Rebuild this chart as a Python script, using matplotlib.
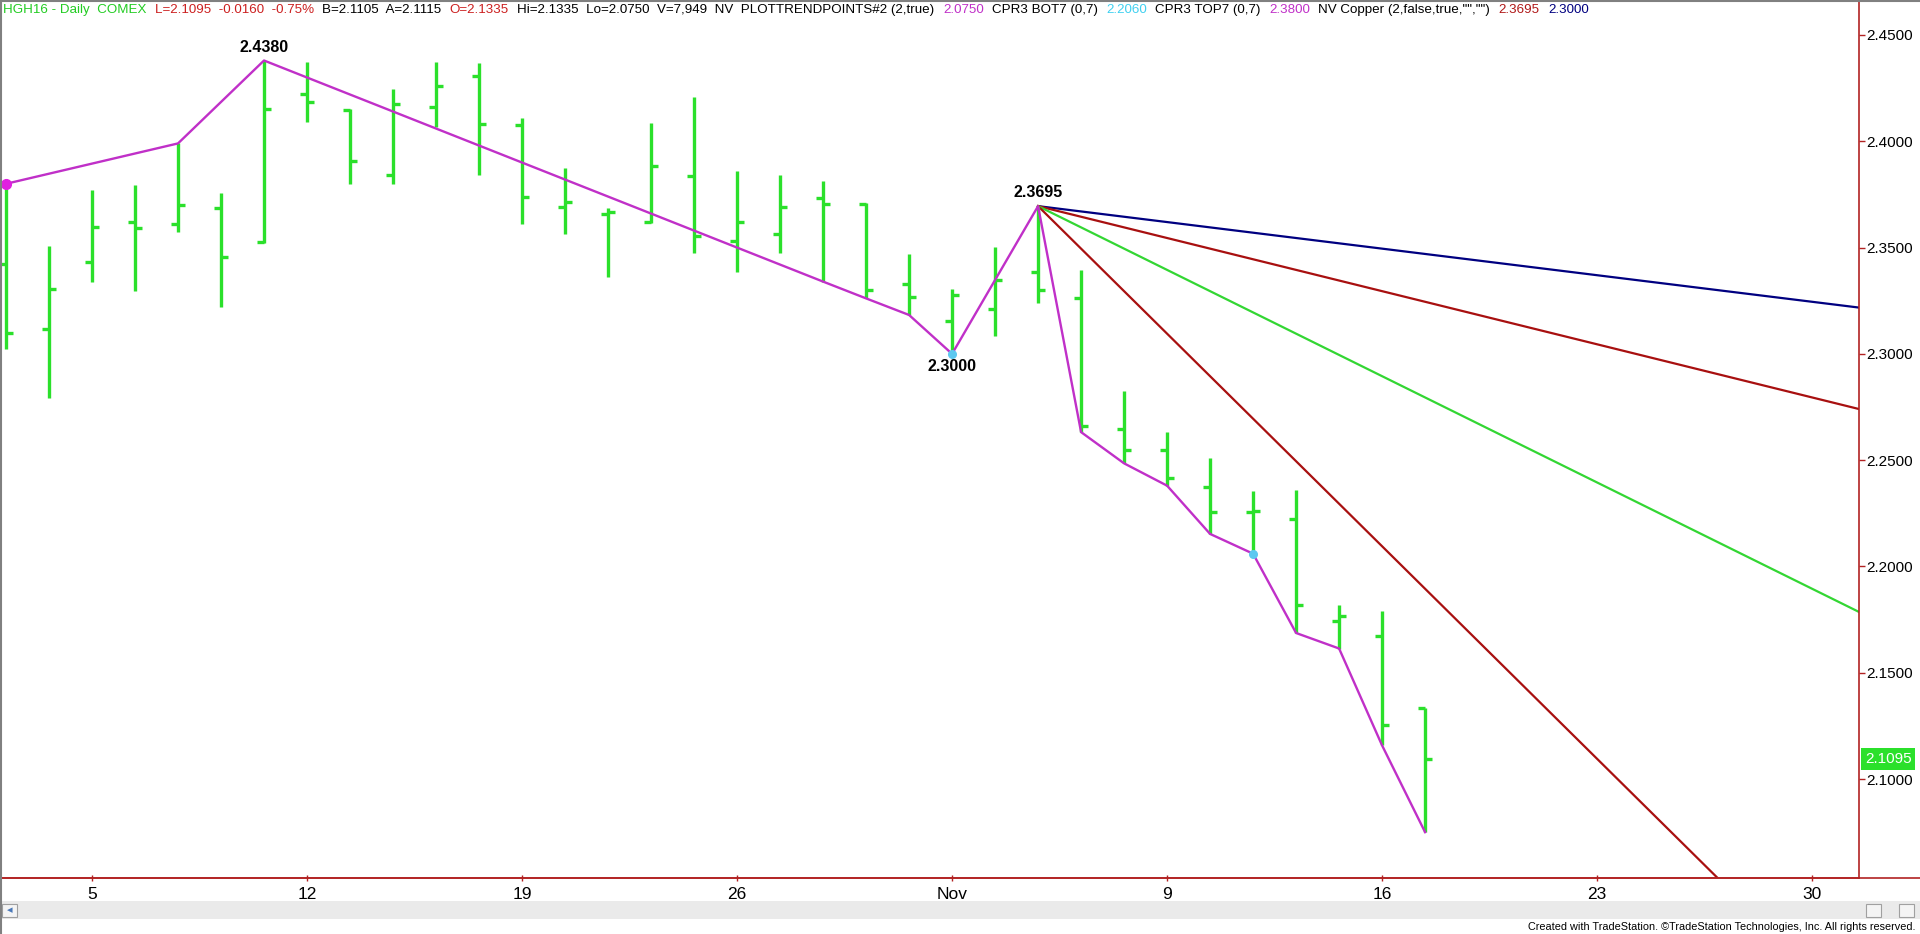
import numpy as np
import matplotlib.pyplot as plt
from matplotlib.lines import Line2D
from matplotlib.patches import Rectangle
from matplotlib.offsetbox import TextArea, HPacker, AnchoredOffsetbox

# HGH16 daily bars, bar index 0 = Oct 1 2015 (trading days only)
opens = [2.3423, 2.3117, 2.3434, 2.3619, 2.3609, 2.3685, 2.3525, 2.4222, 2.4147, 2.3841,
         2.4160, 2.4307, 2.4077, 2.3689, 2.3658, 2.3620, 2.3838, 2.3532, 2.3562, 2.3733,
         2.3705, 2.3330, 2.3156, 2.3209, 2.3383, 2.3261, 2.2646, 2.2548, 2.2373, 2.2254,
         2.2222, 2.1744, 2.1672, 2.1335]
highs = [2.3800, 2.3507, 2.3771, 2.3794, 2.3990, 2.3755, 2.4380, 2.4375, 2.4152, 2.4244,
         2.4371, 2.4370, 2.4108, 2.3874, 2.3685, 2.4088, 2.4210, 2.3860, 2.3841, 2.3813,
         2.3708, 2.3470, 2.3303, 2.3503, 2.3695, 2.3394, 2.2825, 2.2632, 2.2510, 2.2355,
         2.2359, 2.1817, 2.1792, 2.1335]
lows = [2.3021, 2.2791, 2.3337, 2.3297, 2.3572, 2.3219, 2.3520, 2.4089, 2.3801, 2.3801,
        2.4069, 2.3840, 2.3611, 2.3564, 2.3363, 2.3617, 2.3476, 2.3387, 2.3476, 2.3340,
        2.3261, 2.3183, 2.3000, 2.3083, 2.3240, 2.2632, 2.2485, 2.2380, 2.2153, 2.2060,
        2.1687, 2.1614, 2.1158, 2.0750]
closes = [2.3097, 2.3304, 2.3595, 2.3591, 2.3699, 2.3457, 2.4150, 2.4183, 2.3906, 2.4175,
          2.4260, 2.4080, 2.3736, 2.3713, 2.3666, 2.3884, 2.3556, 2.3619, 2.3693, 2.3703,
          2.3300, 2.3266, 2.3277, 2.3349, 2.3299, 2.2663, 2.2548, 2.2418, 2.2254, 2.2260,
          2.1819, 2.1765, 2.1255, 2.1095]

# PLOTTRENDPOINTS swing line
trend_idx = [0, 4, 6, 19, 20, 21, 22, 24, 25, 26, 27, 28, 29, 30, 31, 32, 33]
trend_val = [2.3800, 2.3990, 2.4380, 2.3340, 2.3261, 2.3183, 2.3000, 2.3695, 2.2632,
             2.2485, 2.2380, 2.2153, 2.2060, 2.1687, 2.1614, 2.1158, 2.0750]

# swing labels
pivot_idx = [6, 22, 24]
pivot_val = [2.4380, 2.3000, 2.3695]
pivot_top = [True, False, True]

# CPR3 points
top_idx, top_val = [0], [2.3800]
bot_idx, bot_val = [22, 29], [2.3000, 2.2060]

# NV Copper fan from the 2.3695 high (slope per bar)
fan_start = (24, 2.3695)
fan_slopes = [-0.0025, -0.005, -0.01, -0.02]
fan_colors = ['#000080', '#A81010', '#33D633', '#A81010']

# x axis labels (Mondays)
tick_idx = [2, 7, 12, 17, 22, 27, 32, 37, 42]
tick_lbl = ['5', '12', '19', '26', 'Nov', '9', '16', '23', '30']
ytick_vals = [2.10, 2.15, 2.20, 2.25, 2.30, 2.35, 2.40, 2.45]
last_price = 2.1095

W, H = 1920, 934
GREEN = '#2BE02B'
AXRED = '#B22222'
MAG = '#C030C8'

fig = plt.figure(figsize=(W / 100, H / 100), dpi=100, facecolor='white')
ax = fig.add_axes([2 / W, (H - 878) / H, (1859 - 2) / W, (878 - 2) / H])

x = np.arange(len(opens))
tk = 0.16
ax.vlines(x, lows, highs, color=GREEN, lw=2.4, zorder=3)
ax.hlines(opens, x - tk, x, color=GREEN, lw=2.4, zorder=3)
ax.hlines(closes, x, x + tk, color=GREEN, lw=2.4, zorder=3)

ax.plot(trend_idx, trend_val, color=MAG, lw=1.7, zorder=4)
ax.plot(top_idx, top_val, 'o', color='#E020E0', ms=7, zorder=5)
ax.plot(bot_idx, bot_val, 'o', color='#5CC8F0', ms=5.5, zorder=5)

x_end = 43.2
for s, c in zip(fan_slopes, fan_colors):
    xs = np.array([fan_start[0], x_end])
    ax.plot(xs, fan_start[1] + s * (xs - fan_start[0]), color=c, lw=1.6, zorder=2)

for i, v, up in zip(pivot_idx, pivot_val, pivot_top):
    ax.annotate(f'{v:.4f}', xy=(i, v), xytext=(0, 6 if up else -5),
                textcoords='offset pixels', ha='center', va='bottom' if up else 'top',
                fontsize=11.5, fontweight='bold', family='Liberation Sans', zorder=6)

ax.set_xlim(-0.093, 43.09)
ax.set_ylim(2.05345, 2.46552)

for sp in ['top', 'left']:
    ax.spines[sp].set_visible(False)
for sp in ['right', 'bottom']:
    ax.spines[sp].set_color(AXRED)
    ax.spines[sp].set_linewidth(1.2)

ax.yaxis.tick_right()
ax.set_yticks(ytick_vals)
ax.set_yticklabels([f'{v:.4f}' for v in ytick_vals], family='Liberation Sans', fontsize=11)
ax.tick_params(axis='y', direction='out', length=4.5, width=1, color=AXRED, pad=1)
ax.set_xticks(tick_idx)
ax.set_xticklabels(tick_lbl, family=['Liberation Sans Narrow', 'Liberation Sans'], fontsize=12.5)
ax.tick_params(axis='x', direction='inout', length=5, width=1, color=AXRED, pad=4)

# last price box on the price scale
ax.annotate(f'{last_price:.4f}', xy=(1, last_price), xycoords=('axes fraction', 'data'),
            xytext=(6, 0), textcoords='offset pixels', ha='left', va='center',
            color='white', fontsize=11, family='Liberation Sans', annotation_clip=False,
            bbox=dict(boxstyle='square,pad=0.25', fc=GREEN, ec='none'))

# bottom axis line across whole width, frame lines, scroll bar
fig.add_artist(Line2D([0, 1], [(H - 878) / H] * 2, color=AXRED, lw=1.2))
fig.add_artist(Line2D([0.5 / W] * 2, [0, 1], color='#808080', lw=1.5))
fig.add_artist(Line2D([0, 1], [1 - 0.5 / H] * 2, color='#808080', lw=1.5))
fig.add_artist(Rectangle((0, (H - 919) / H), 1, 18 / H, transform=fig.transFigure,
                         fc='#EAEAEA', ec='none'))
for bx in [2, 1866, 1899]:
    fig.add_artist(Rectangle((bx / W, (H - 917) / H), 15 / W, 13 / H, transform=fig.transFigure,
                             fc='#F4F4F4', ec='#A0A0A0', lw=0.8))
fig.text(9.5 / W, 1 - 910.5 / H, '\u25c2', ha='center', va='center', fontsize=8,
         color='#4A78B8', family='DejaVu Sans')

fig.text(1916 / W, 1 - 927 / H, 'Created with TradeStation. \u00a9TradeStation Technologies, Inc. All rights reserved.',
         ha='right', va='center', fontsize=7.8, family=['Liberation Sans Narrow', 'Liberation Sans'])

# header line
header = [
    ('HGH16 - Daily  COMEX', '#22CC22'),
    ('L=2.1095  -0.0160  -0.75%', '#CC2020'),
    ('B=2.1105  A=2.1115', 'black'),
    ('O=2.1335', '#CC2020'),
    ('Hi=2.1335  Lo=2.0750  V=7,949  NV  PLOTTRENDPOINTS#2 (2,true)', 'black'),
    ('2.0750', '#C030C8'),
    ('CPR3 BOT7 (0,7)', 'black'),
    ('2.2060', '#40D0F0'),
    ('CPR3 TOP7 (0,7)', 'black'),
    ('2.3800', '#C030C8'),
    ('NV Copper (2,false,true,"","")', 'black'),
    ('2.3695', '#B01818'),
    ('2.3000', '#000080'),
]
boxes = [TextArea(t, textprops=dict(color=c, fontsize=9.6, family='Liberation Sans')) for t, c in header]
pack = HPacker(children=boxes, align='baseline', pad=0, sep=6)
anch = AnchoredOffsetbox(loc='upper left', child=pack, pad=0, borderpad=0, frameon=False,
                         bbox_to_anchor=(3 / W, 1 - 4 / H), bbox_transform=fig.transFigure)
fig.add_artist(anch)

fig.savefig('out.png', dpi=100, facecolor='white')
